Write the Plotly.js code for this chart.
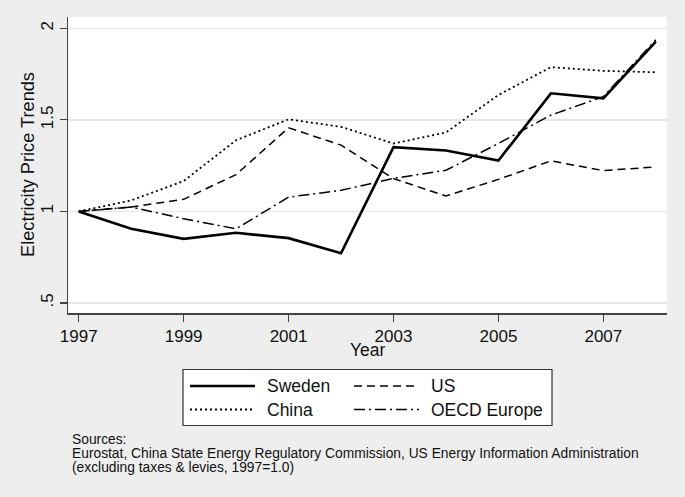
<!DOCTYPE html>
<html>
<head>
<meta charset="utf-8">
<script src="https://cdn.plot.ly/plotly-3.0.1.min.js"></script>
<style>html,body{margin:0;padding:0;background:#eeeeee;}</style>
</head>
<body>
<div id="chart" style="width:685px;height:497px;"></div>
<script>
const years = [1997, 1998, 1999, 2000, 2001, 2002, 2003, 2004, 2005, 2006, 2007, 2008];
const sweden = [1, 0.905, 0.85, 0.883, 0.854, 0.771, 1.351, 1.333, 1.278, 1.645, 1.618, 1.928];
const us = [1, 1.024, 1.066, 1.201, 1.457, 1.362, 1.179, 1.084, 1.175, 1.276, 1.223, 1.243];
const china = [1, 1.06, 1.166, 1.389, 1.503, 1.462, 1.371, 1.431, 1.636, 1.788, 1.768, 1.76];
const oecd = [1, 1.024, 0.96, 0.905, 1.078, 1.115, 1.18, 1.225, 1.371, 1.526, 1.627, 1.937];
const seriesNames = ["Sweden", "US", "China", "OECD Europe"];
const yTickVals = [0.5, 1, 1.5, 2];
const yTickText = [".5", "1", "1.5", "2"];
const xTickVals = [1997, 1999, 2001, 2003, 2005, 2007];
const xTitle = "Year";
const yTitle = "Electricity Price Trends";
const sourceLines = [
  "Sources:",
  "Eurostat, China State Energy Regulatory Commission, US Energy Information Administration",
  "(excluding taxes & levies, 1997=1.0)"
];

const W = 685, H = 497;
const M = {l: 68, r: 18, t: 17, b: 184};
const PW = W - M.l - M.r, PH = H - M.t - M.b;
const px = x => (x - M.l) / PW;
const py = y => (H - M.b - y) / PH;

const styles = [
  {color: "#000", width: 2.6, dash: "solid"},
  {color: "#000", width: 1.5, dash: "8px,5px"},
  {color: "#000", width: 1.8, dash: "2px,3px"},
  {color: "#000", width: 1.5, dash: "11px,4px,2px,4px"}
];
const data = [sweden, us, china, oecd];

const traces = data.map((vals, i) => ({
  x: years, y: vals, type: "scatter", mode: "lines",
  name: seriesNames[i], showlegend: false,
  line: styles[i]
}));

const font = "Liberation Sans, Arial, sans-serif";
const shapes = [];
const annotations = [];

// axis titles
annotations.push({xref: "paper", yref: "paper", x: px(28), y: py(165),
  xanchor: "center", yanchor: "middle", showarrow: false, textangle: -90,
  text: yTitle, font: {family: font, size: 18.2, color: "#111"}});
annotations.push({xref: "paper", yref: "paper", x: px(367.5), y: py(349.5),
  xanchor: "center", yanchor: "middle", showarrow: false,
  text: xTitle, font: {family: font, size: 17.5, color: "#111"}});

// legend box
shapes.push({type: "rect", xref: "paper", yref: "paper",
  x0: px(183), x1: px(552), y0: py(369.5), y1: py(425.5),
  line: {color: "#333", width: 1.2}, fillcolor: "#ffffff", layer: "above"});
const legPos = [
  {x0: 190, x1: 255, y: 386, tx: 265},
  {x0: 354, x1: 419, y: 386, tx: 429},
  {x0: 190, x1: 255, y: 409.5, tx: 265},
  {x0: 354, x1: 419, y: 409.5, tx: 429}
];
legPos.forEach((p, i) => {
  shapes.push({type: "line", xref: "paper", yref: "paper",
    x0: px(p.x0), x1: px(p.x1), y0: py(p.y), y1: py(p.y),
    line: styles[i], layer: "above"});
  annotations.push({xref: "paper", yref: "paper", x: px(p.tx), y: py(p.y),
    xanchor: "left", yanchor: "middle", showarrow: false, text: seriesNames[i],
    font: {family: font, size: 17.5, color: "#111"}});
});
const srcY = [439, 453.5, 467.5];
sourceLines.forEach((t, i) => {
  annotations.push({xref: "paper", yref: "paper", x: px(70), y: py(srcY[i]),
    xanchor: "left", yanchor: "middle", showarrow: false, text: t,
    font: {family: font, size: 13.8, color: "#111"}});
});

const layout = {
  width: W, height: H,
  margin: M,
  paper_bgcolor: "#eeeeee",
  plot_bgcolor: "#ffffff",
  font: {family: font, size: 16.5, color: "#111"},
  xaxis: {
    range: [1996.796, 2008.213],
    tickvals: xTickVals, ticktext: xTickVals.map(String),
    ticks: "outside", ticklen: 7, tickwidth: 1.2, tickcolor: "#444",
    showgrid: false, zeroline: false,
    showline: true, linecolor: "#444", linewidth: 1.5,
    tickfont: {size: 17, color: "#111"}
  },
  yaxis: {
    range: [0.445, 2.062],
    tickvals: yTickVals, ticktext: yTickText, tickangle: -90,
    ticks: "outside", ticklen: 7, tickwidth: 1.2, tickcolor: "#444",
    showgrid: true, gridcolor: "#e6e6e6", gridwidth: 1.5,
    zeroline: false, showline: true, linecolor: "#444", linewidth: 1.5,
    tickfont: {size: 17, color: "#111"}
  },
  shapes: shapes,
  annotations: annotations
};

Plotly.newPlot("chart", traces, layout, {displayModeBar: false, staticPlot: true});
</script>
</body>
</html>
